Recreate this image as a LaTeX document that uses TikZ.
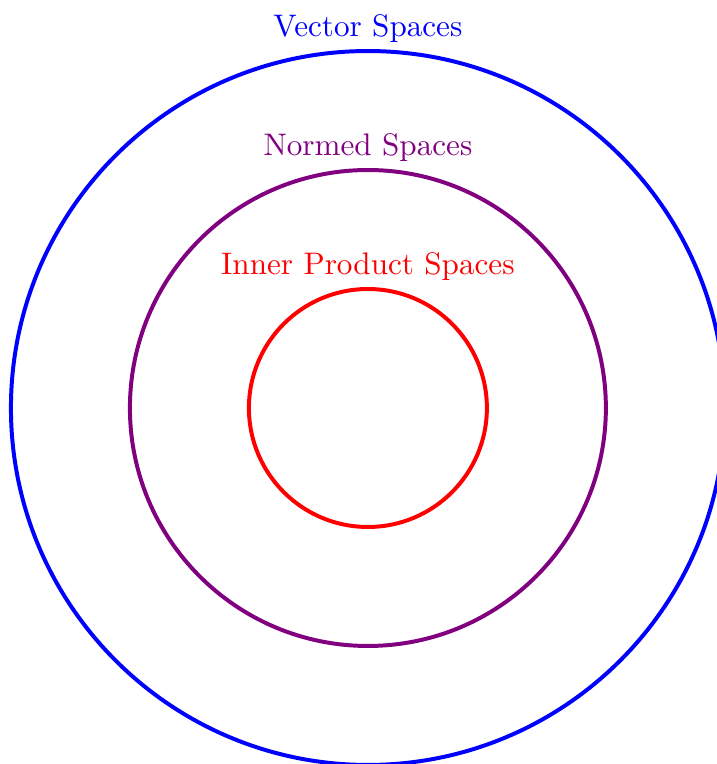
\documentclass[tikz,border=0pt]{standalone}
\definecolor{vblue}{RGB}{0,0,255}
\definecolor{npurple}{RGB}{128,0,128}
\definecolor{ired}{RGB}{255,0,0}
\begin{document}
\begin{tikzpicture}
\tikzset{
  ring/.style={circle, draw, line width=0.95pt, inner sep=0pt, outer sep=0pt},
  lab/.style={anchor=base, inner sep=0pt, font=\fontsize{10}{12}\selectfont, scale=0.745, transform shape}
}
\useasboundingbox (-3.092,-2.992) rectangle (2.933,3.429);
\node[ring, vblue, minimum size=6cm] (outer) at (0,0) {};
\node[ring, npurple, minimum size=4cm] (middle) at (0,0) {};
\node[ring, ired, minimum size=2cm] (inner) at (0,0) {};
\node[lab, text=vblue] (vlab) at ([yshift=0.12cm]outer.north) {Vector Spaces};
\node[lab, text=npurple] (nlab) at ([yshift=0.12cm]middle.north) {Normed Spaces};
\node[lab, text=ired] (ilab) at ([yshift=0.12cm]inner.north) {Inner Product Spaces};
\end{tikzpicture}
\end{document}
